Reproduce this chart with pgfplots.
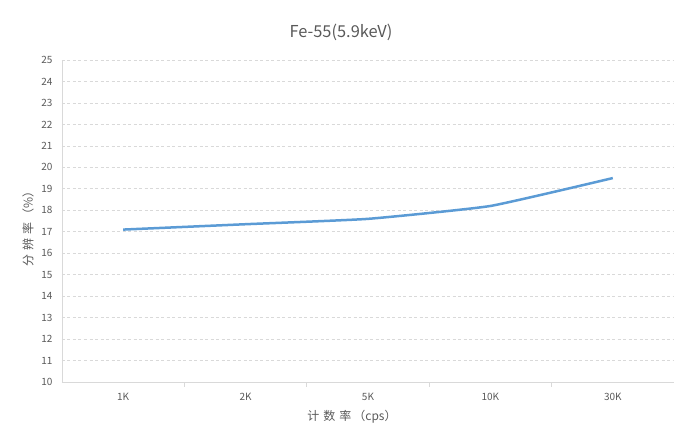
\documentclass[border=0pt]{standalone}
\usepackage{pgfplots}
\pgfplotsset{compat=1.18}
\usepackage{fontspec}
\setmainfont{Noto Sans CJK SC}
\definecolor{txt}{HTML}{595959}
\definecolor{lineblue}{HTML}{5B9BD5}
\definecolor{gridc}{HTML}{D9D9D9}
\begin{document}
\begin{tikzpicture}[x=1pt,y=1pt]
\path[use as bounding box] (0,0) rectangle (677,433);
\begin{axis}[
  at={(62pt,51pt)}, anchor=south west,
  scale only axis, width=612pt, height=322pt,
  xmin=-0.5, xmax=4.5, ymin=10, ymax=25,
  ytick={10,...,25},
  xtick={0,...,4}, xticklabels={1K,2K,5K,10K,30K},
  minor xtick={0.5,1.5,2.5,3.5},
  axis lines=left, axis line style={-, draw=gridc, line width=0.8pt},
  major tick length=0pt, minor tick length=5pt,
  tick align=outside,
  minor tick style={draw=gridc, line width=0.8pt},
  ymajorgrids, major grid style={draw=gridc, dash pattern=on 3pt off 2.5pt, line width=0.7pt},
  tick label style={font=\fontsize{10}{12}\selectfont, text=txt},
  /pgf/number format/assume math mode=true,
  yticklabel style={xshift=-6pt},
  xticklabel style={yshift=-8pt},
  title={Fe-55(5.9keV)},
  title style={at={(rel axis cs:0,1)}, anchor=center, xshift=279pt, yshift=22pt, font=\fontsize{16.4}{18}\selectfont, text=txt},
  xlabel={计\hspace{4pt}数\hspace{4pt}率\hspace{2pt}（cps）},
  xlabel style={at={(rel axis cs:0,0)}, anchor=center, yshift=-35pt, xshift=290pt, font=\fontsize{12}{14}\selectfont, text=txt},
  ylabel={分\hspace{4pt}辨\hspace{4pt}率\hspace{2pt}（\%）},
  ylabel style={at={(rel axis cs:0,0.5)}, anchor=center, xshift=-5pt, yshift=34pt, font=\fontsize{12}{14}\selectfont, text=txt},
]
\addplot[color=lineblue, line width=2.5pt, smooth, tension=0.25] coordinates {
  (0,17.1) (1,17.35) (2,17.6) (3,18.2) (4,19.5)
};
\end{axis}
\end{tikzpicture}
\end{document}
